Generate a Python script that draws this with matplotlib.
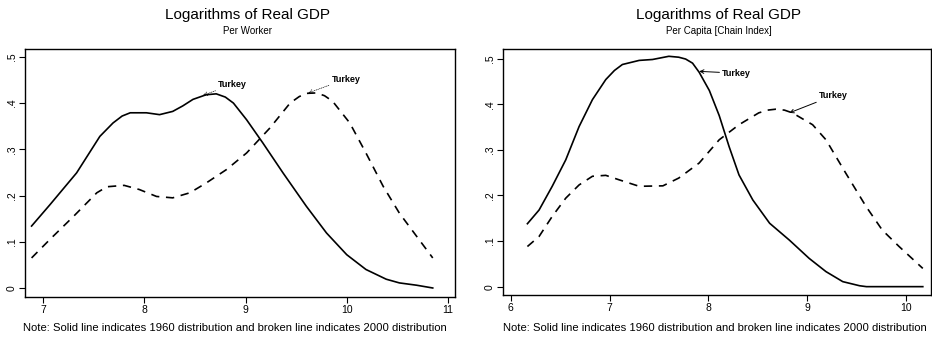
import matplotlib
matplotlib.use("Agg")
import matplotlib.pyplot as plt

plt.rcParams['font.family'] = ['Liberation Sans', 'DejaVu Sans']

# Per worker (left panel)
pw_x_1960 = [6.885, 7.066, 7.33, 7.56, 7.69, 7.78, 7.86, 8.02, 8.15, 8.28, 8.38, 8.48, 8.61, 8.71,
             8.80, 8.88, 9.01, 9.17, 9.37, 9.60, 9.80, 10.0, 10.19, 10.39, 10.52, 10.69, 10.85]
pw_y_1960 = [0.134, 0.180, 0.249, 0.328, 0.357, 0.372, 0.379, 0.379, 0.375, 0.382, 0.394, 0.408,
             0.418, 0.420, 0.413, 0.400, 0.364, 0.314, 0.249, 0.177, 0.119, 0.072, 0.040, 0.019,
             0.011, 0.006, 0.0]
pw_x_2000 = [6.885, 7.066, 7.30, 7.53, 7.63, 7.80, 7.95, 8.12, 8.28, 8.45, 8.61, 8.81,
             9.01, 9.24, 9.44, 9.53, 9.60, 9.70, 9.78, 9.86, 10.03, 10.19, 10.36, 10.52, 10.69, 10.85]
pw_y_2000 = [0.065, 0.105, 0.155, 0.206, 0.219, 0.222, 0.213, 0.198, 0.195, 0.206, 0.227, 0.256,
             0.292, 0.346, 0.400, 0.414, 0.421, 0.422, 0.416, 0.404, 0.357, 0.292, 0.220, 0.162,
             0.112, 0.065]

# Per capita, chain index (right panel)
pc_x_1960 = [6.169, 6.287, 6.42, 6.557, 6.692, 6.827, 6.962, 7.05, 7.13, 7.30, 7.435, 7.60, 7.70,
             7.77, 7.84, 7.907, 8.01, 8.11, 8.21, 8.31, 8.45, 8.62, 8.82, 9.02, 9.19, 9.36,
             9.53, 9.60, 10.17]
pc_y_1960 = [0.138, 0.168, 0.220, 0.278, 0.351, 0.410, 0.454, 0.474, 0.487, 0.496, 0.498, 0.505,
             0.503, 0.499, 0.490, 0.470, 0.430, 0.375, 0.307, 0.245, 0.190, 0.139, 0.102, 0.062,
             0.033, 0.011, 0.002, 0.0, 0.0]
pc_x_2000 = [6.169, 6.287, 6.42, 6.557, 6.692, 6.827, 6.962, 7.10, 7.30, 7.54, 7.70, 7.907,
             8.11, 8.31, 8.51, 8.60, 8.68, 8.77, 8.85, 9.055, 9.19, 9.39, 9.595, 9.76, 9.93, 10.17]
pc_y_2000 = [0.088, 0.110, 0.154, 0.194, 0.223, 0.242, 0.244, 0.234, 0.220, 0.221, 0.238, 0.271,
             0.322, 0.355, 0.381, 0.387, 0.389, 0.387, 0.381, 0.355, 0.322, 0.249, 0.176, 0.124,
             0.088, 0.040]

yticks = [0, 0.1, 0.2, 0.3, 0.4, 0.5]
ytick_labels = ["0", ".1", ".2", ".3", ".4", ".5"]
note = "Note: Solid line indicates 1960 distribution and broken line indicates 2000 distribution"

fig = plt.figure(figsize=(9.32, 3.37), dpi=100)
W, H = 932.0, 337.0

def make_ax(left, right, top, bottom):
    return fig.add_axes([left / W, 1 - bottom / H, (right - left) / W, (bottom - top) / H])

def style(ax, xticks, xlim, ylim):
    ax.set_xlim(*xlim)
    ax.set_ylim(*ylim)
    ax.set_xticks(xticks)
    ax.set_xticklabels([str(t) for t in xticks], fontsize=7.5)
    ax.set_yticks(yticks)
    ax.set_yticklabels(ytick_labels, fontsize=7.5, rotation=90, va='center')
    ax.tick_params(direction='out', length=4, width=0.8, pad=2)
    for s in ax.spines.values():
        s.set_linewidth(1.0)

ax1 = make_ax(25, 455, 49, 297)
ax1.plot(pw_x_1960, pw_y_1960, color='black', lw=1.2)
ax1.plot(pw_x_2000, pw_y_2000, color='black', lw=1.2, dashes=(5, 4))
style(ax1, [7, 8, 9, 10, 11], (6.82, 11.07), (-0.0195, 0.517))
ax1.annotate("Turkey", xy=(8.58, 0.417), xytext=(8.73, 0.44), fontsize=6.5, fontweight='bold',
             va='center', arrowprops=dict(arrowstyle='->', lw=0.5, ls=':', color='black',
                                          shrinkA=0, shrinkB=0))
ax1.annotate("Turkey", xy=(9.62, 0.422), xytext=(9.85, 0.452), fontsize=6.5, fontweight='bold',
             va='center', arrowprops=dict(arrowstyle='->', lw=0.5, ls=':', color='black',
                                          shrinkA=0, shrinkB=0))

ax2 = make_ax(503, 931, 49, 295)
ax2.plot(pc_x_1960, pc_y_1960, color='black', lw=1.2)
ax2.plot(pc_x_2000, pc_y_2000, color='black', lw=1.2, dashes=(5, 4))
style(ax2, [6, 7, 8, 9, 10], (5.922, 10.253), (-0.0183, 0.521))
ax2.annotate("Turkey", xy=(7.907, 0.472), xytext=(8.14, 0.468), fontsize=6.5, fontweight='bold',
             va='center', arrowprops=dict(arrowstyle='->', lw=0.7, color='black',
                                          shrinkA=0, shrinkB=0))
ax2.annotate("Turkey", xy=(8.82, 0.381), xytext=(9.12, 0.419), fontsize=6.5, fontweight='bold',
             va='center', arrowprops=dict(arrowstyle='->', lw=0.7, color='black',
                                          shrinkA=0, shrinkB=0))

# titles and notes
fig.text(247 / W, 1 - 15 / H, "Logarithms of Real GDP", ha='center', va='center', fontsize=11)
fig.text(247 / W, 1 - 31 / H, "Per Worker", ha='center', va='center', fontsize=7)
fig.text(719 / W, 1 - 15 / H, "Logarithms of Real GDP", ha='center', va='center', fontsize=11)
fig.text(719 / W, 1 - 31 / H, "Per Capita [Chain Index]", ha='center', va='center', fontsize=7)
fig.text(23 / W, 1 - 328 / H, note, ha='left', va='center', fontsize=8.1)
fig.text(503 / W, 1 - 328 / H, note, ha='left', va='center', fontsize=8.1)

fig.savefig("out.png", dpi=100)
